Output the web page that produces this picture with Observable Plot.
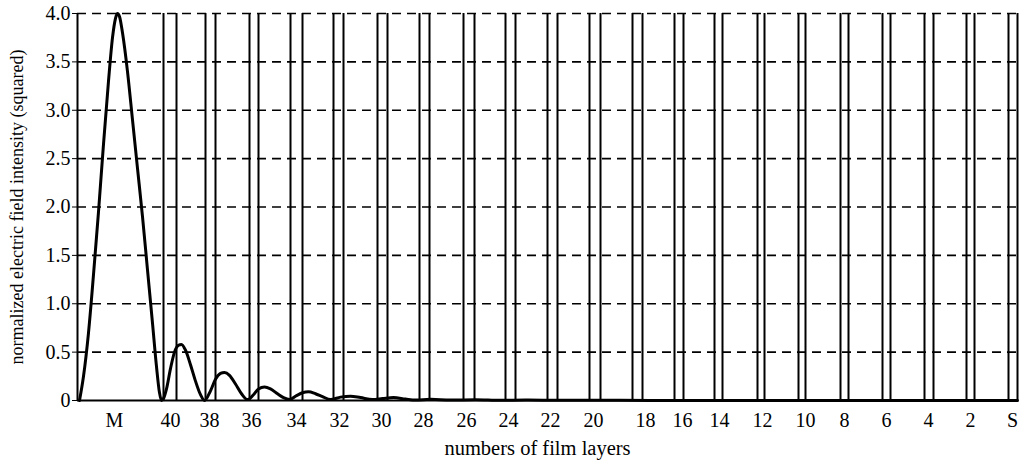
<!DOCTYPE html>
<html>
<head>
<meta charset="utf-8">
<script src="https://cdn.jsdelivr.net/npm/d3@7"></script>
<script src="https://cdn.jsdelivr.net/npm/@observablehq/plot@0.6"></script>
<style>
  html, body { margin: 0; padding: 0; background: #fff; }
  #chart { width: 1022px; height: 460px; }
</style>
</head>
<body>
<div id="chart"></div>
<script>
// Depth through the stack (arbitrary units, left axis = 0, substrate edge = 940)
const layerBoundaries = [86, 99, 128, 138, 172, 181, 213, 225, 256, 266, 300, 310,
  342, 352, 386, 397, 428, 438, 470, 480, 512, 523, 555, 565, 597, 606, 637, 645,
  680, 687, 721, 728, 763, 771, 805, 813, 847, 856, 889, 897, 931, 940];

const tickPositions = [37, 93, 132, 174, 219, 262, 304, 346, 389, 431, 473, 516,
  568, 605, 642, 685, 728, 767, 809, 851, 893, 935];
const tickLabels = ["M", "40", "38", "36", "34", "32", "30", "28", "26", "24", "22", "20",
  "18", "16", "14", "12", "10", "8", "6", "4", "2", "S"];

const yTicks = [0, 0.5, 1.0, 1.5, 2.0, 2.5, 3.0, 3.5, 4.0];
const gridValues = [0.5, 1.0, 1.5, 2.0, 2.5, 3.0, 3.5, 4.0];

const curveDepth = [2, 6, 11, 16, 21, 26, 31, 35, 38, 40, 42, 45, 50, 55, 60, 65, 70, 75, 79, 82, 84,
  86, 89, 93, 97, 101, 104, 108, 113, 118, 123, 127,
  133, 138, 143, 147, 152, 158, 164, 170,
  176, 181, 187, 193, 200, 206, 212,
  219, 225, 231, 238, 245, 253,
  263, 273, 283, 295,
  305, 316, 328, 338,
  353, 373, 398, 423, 448, 483, 523, 573, 623, 940];
const curveIntensity = [0, 0.25, 0.7, 1.3, 1.95, 2.65, 3.3, 3.75, 3.95, 4.0, 3.97, 3.8, 3.4, 2.9, 2.4, 1.9, 1.35, 0.8, 0.35, 0.08, 0,
  0.02, 0.12, 0.33, 0.5, 0.57, 0.58, 0.52, 0.37, 0.2, 0.06, 0.0,
  0.1, 0.22, 0.28, 0.29, 0.26, 0.17, 0.07, 0.01,
  0.06, 0.12, 0.14, 0.12, 0.07, 0.03, 0.01,
  0.05, 0.08, 0.09, 0.07, 0.04, 0.01,
  0.035, 0.045, 0.03, 0.01,
  0.02, 0.03, 0.015, 0.005,
  0.012, 0.004, 0.008, 0.002, 0.005, 0.002, 0.003, 0.001, 0, 0];

const curve = curveDepth.map((d, i) => ({x: d, y: curveIntensity[i]}));

const chart = Plot.plot({
  width: 1022,
  height: 460,
  marginLeft: 77,
  marginRight: 5,
  marginTop: 13,
  marginBottom: 60,
  style: {fontFamily: "'Liberation Serif', 'Times New Roman', serif", fontSize: "20px", color: "#000", background: "#fff"},
  x: {domain: [0, 940]},
  y: {domain: [0, 4]},
  marks: [
    Plot.ruleY(gridValues, {stroke: "#000", strokeWidth: 1.6, strokeDasharray: "9,6"}),
    Plot.ruleX(layerBoundaries, {y1: 0, y2: 4, stroke: "#000", strokeWidth: 2}),
    Plot.ruleX([0], {y1: 0, y2: 4, stroke: "#000", strokeWidth: 2}),
    Plot.ruleY([0], {stroke: "#000", strokeWidth: 2}),
    Plot.line(curve, {x: "x", y: "y", stroke: "#000", strokeWidth: 3, curve: "monotone-x"}),
    Plot.axisY({
      ticks: yTicks,
      tickFormat: d => d === 0 ? "0" : d.toFixed(1),
      tickSize: 5,
      tickPadding: 2,
      fontSize: 20,
      label: null
    }),
    Plot.axisY({
      ticks: [],
      tickSize: 0,
      fontSize: 18,
      label: "normalized electric field intensity (squared)",
      labelAnchor: "center",
      labelArrow: "none",
      labelOffset: 67
    }),
    Plot.axisX({
      ticks: tickPositions,
      tickFormat: (d) => tickLabels[tickPositions.indexOf(d)],
      tickSize: 0,
      tickPadding: 12,
      fontSize: 20,
      label: null
    }),
    Plot.text(["numbers of film layers"], {
      frameAnchor: "bottom",
      dx: -10,
      dy: 54,
      fontSize: 20.5,
      fill: "#000"
    })
  ]
});
document.getElementById("chart").appendChild(chart);
</script>
</body>
</html>
